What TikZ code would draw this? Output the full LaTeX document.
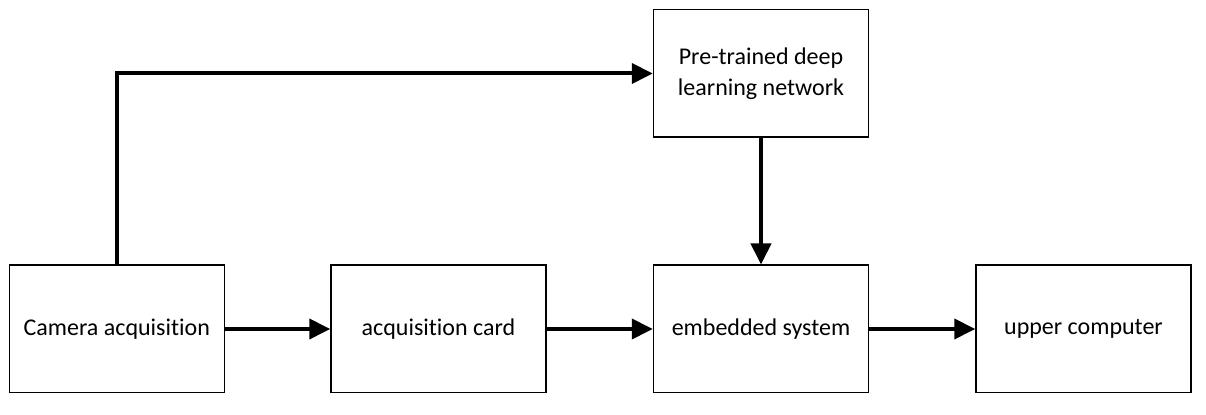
\documentclass[tikz,border=0pt]{standalone}
\usepackage{fontspec}
\setmainfont{Carlito}[Ligatures={NoCommon,NoDiscretionary,NoContextual}]
\usetikzlibrary{arrows.meta}
\begin{document}
\begin{tikzpicture}[x=0.5pt,y=-0.5pt,
  blk/.style={draw=black,line width=0.75pt,minimum width=107.5pt,minimum height=63.75pt,inner sep=0pt,align=center,font=\fontsize{12}{15.5}\selectfont},
  conn/.style={line width=2pt,-{Triangle[length=10.5pt,width=10pt]}}]
\useasboundingbox[fill=white] (0,0) rectangle (1206,415);
\node[blk] (cam) at (116.8,329) {\raisebox{-1.5pt}{Camera acquisition}};
\node[blk] (card) at (438.5,329) {\raisebox{-1.5pt}{acquisition card}};
\node[blk] (emb) at (761,329) {\raisebox{-1.5pt}{embedded system}};
\node[blk] (up) at (1083.5,329) {\raisebox{-1.5pt}{upper computer}};
\node[blk] (pre) at (761,73.5) {Pre-trained deep\\learning network};
\draw[conn] (cam) -- (card);
\draw[conn] (card) -- (emb);
\draw[conn] (emb) -- (up);
\draw[conn] (pre) -- (emb);
\draw[conn] (cam.north) |- (pre.west);
\end{tikzpicture}
\end{document}
